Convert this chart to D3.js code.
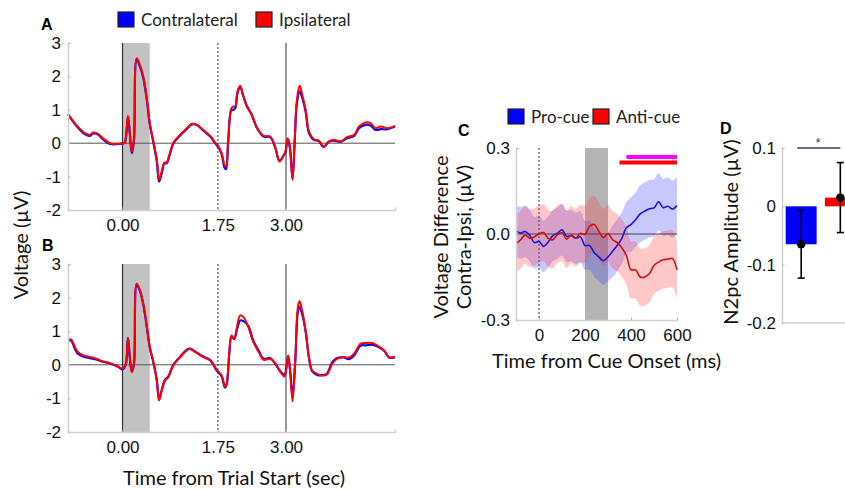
<!DOCTYPE html>
<html>
<head>
<meta charset="utf-8">
<script src="https://cdn.jsdelivr.net/npm/d3@7"></script>
<style>
body { margin: 0; background: #fff; }
</style>
</head>
<body>
<div id="chart"></div>
<script>
// ---- data ----
var timesA = [-1.0,-0.85,-0.69,-0.60,-0.54,-0.45,-0.36,-0.23,-0.11,0,0.04,0.10,0.135,0.17,0.21,0.26,0.32,0.38,0.44,0.50,0.56,0.63,0.67,0.72,0.77,0.81,0.87,0.93,1.06,1.18,1.27,1.36,1.48,1.61,1.70,1.76,1.82,1.87,1.90,1.94,2.0,2.04,2.07,2.11,2.16,2.21,2.28,2.37,2.47,2.59,2.71,2.80,2.88,2.96,2.99,3.03,3.07,3.12,3.16,3.20,3.25,3.29,3.36,3.42,3.51,3.60,3.69,3.79,3.88,4.0,4.12,4.25,4.34,4.46,4.55,4.64,4.74,4.86,5.0];
var contraA = [0.86,0.53,0.27,0.22,0.29,0.26,0.12,-0.02,-0.03,-0.01,0.01,0.78,0.27,-0.3,0.08,2.5,2.3,1.97,1.38,0.58,0.08,-0.55,-1.15,-0.9,-0.6,-0.6,-0.32,-0.02,0.24,0.43,0.56,0.55,0.38,0.2,0.0,-0.13,-0.33,-0.72,-0.78,0.05,1.0,1.0,1.05,1.5,1.68,1.45,1.12,0.86,0.45,0.2,0.18,-0.12,-0.52,-0.36,-0.28,0.12,-0.12,-1.05,0.05,1.2,1.55,1.4,0.95,0.32,0.1,0.07,-0.12,0.05,0.08,0.04,0.15,0.22,0.45,0.55,0.53,0.4,0.42,0.42,0.5];
var ipsiA = [0.87,0.55,0.30,0.25,0.32,0.28,0.15,0.0,-0.02,0.0,0.02,0.82,0.30,-0.25,0.10,2.54,2.34,2.0,1.4,0.6,0.1,-0.5,-1.1,-0.85,-0.58,-0.58,-0.3,0.0,0.25,0.45,0.58,0.55,0.4,0.22,0.02,-0.1,-0.3,-0.65,-0.7,0.1,1.05,1.1,1.1,1.55,1.72,1.45,1.1,0.85,0.45,0.22,0.2,-0.1,-0.55,-0.35,-0.25,0.15,-0.1,-1.1,0.1,1.3,1.72,1.5,1.0,0.35,0.12,0.08,-0.1,0.05,0.1,0.05,0.18,0.25,0.5,0.62,0.6,0.45,0.5,0.45,0.52];

var timesB = [-1.0,-0.94,-0.88,-0.82,-0.72,-0.60,-0.48,-0.36,-0.23,-0.08,0,0.06,0.10,0.135,0.17,0.21,0.26,0.32,0.38,0.44,0.50,0.56,0.63,0.67,0.72,0.78,0.84,0.93,1.06,1.18,1.24,1.33,1.48,1.61,1.73,1.82,1.88,1.91,1.96,2.0,2.05,2.10,2.16,2.22,2.31,2.40,2.50,2.59,2.71,2.80,2.90,2.97,3.01,3.04,3.08,3.12,3.17,3.22,3.25,3.29,3.36,3.42,3.48,3.57,3.66,3.75,3.85,3.94,4.06,4.15,4.25,4.37,4.46,4.58,4.67,4.80,4.89,5.0];
var contraB = [0.72,0.72,0.5,0.33,0.25,0.2,0.16,0.09,0.04,-0.06,-0.14,0.01,0.8,0.2,-0.2,0.02,2.38,2.2,1.8,1.2,0.52,0.12,-0.46,-1.02,-0.75,-0.45,-0.35,-0.01,0.24,0.45,0.48,0.4,0.25,0.14,-0.17,-0.35,-0.68,-0.6,0.33,0.85,0.76,1.05,1.32,1.3,1.15,0.72,0.42,0.18,0.2,0.04,-0.2,-0.3,-0.05,0.27,-0.25,-0.95,0.1,1.6,1.72,1.55,1.0,0.23,-0.19,-0.3,-0.31,-0.27,0.08,0.2,0.22,0.17,0.28,0.57,0.58,0.6,0.55,0.42,0.22,0.22];
var ipsiB = [0.75,0.75,0.55,0.38,0.28,0.23,0.18,0.1,0.05,-0.05,-0.12,0.03,0.78,0.23,-0.22,0.03,2.42,2.22,1.82,1.22,0.53,0.13,-0.47,-1.06,-0.77,-0.47,-0.37,-0.02,0.23,0.43,0.48,0.38,0.23,0.13,-0.15,-0.32,-0.65,-0.57,0.38,0.87,0.78,1.12,1.47,1.42,1.12,0.68,0.38,0.15,0.18,0.05,-0.22,-0.35,-0.07,0.28,-0.27,-1.09,0.13,1.74,1.89,1.67,1.02,0.23,-0.17,-0.27,-0.32,-0.29,0.03,0.18,0.23,0.21,0.33,0.63,0.65,0.65,0.58,0.43,0.23,0.23];

var trialTicks = [0, 1.75, 3];
var voltTicks = [-2, -1, 0, 1, 2, 3];

// panel C: contra - ipsi difference waves (ms)
var cueTimes = [-95,-80,-60,-40,-20,0,20,40,60,80,100,120,140,160,180,200,220,240,260,280,300,320,340,360,380,400,420,440,460,480,500,520,540,560,580,600];
var proMean = [0.009,0.003,0.009,-0.005,-0.03,-0.026,-0.043,-0.028,-0.006,0.003,0.015,-0.008,-0.006,-0.015,-0.01,-0.04,-0.04,-0.065,-0.08,-0.093,-0.08,-0.06,-0.04,-0.015,0.022,0.033,0.05,0.07,0.08,0.088,0.091,0.112,0.092,0.097,0.087,0.099];
var proErr = [0.09,0.09,0.09,0.09,0.09,0.09,0.09,0.09,0.09,0.09,0.09,0.09,0.09,0.09,0.09,0.085,0.085,0.085,0.085,0.085,0.085,0.09,0.09,0.09,0.09,0.095,0.095,0.1,0.1,0.1,0.1,0.1,0.1,0.1,0.1,0.1];
var antiMean = [-0.031,-0.02,-0.004,-0.015,-0.01,0.0,0.005,-0.015,-0.02,-0.002,0.005,-0.018,-0.003,-0.014,0.002,-0.002,0.027,0.033,0.01,-0.012,0.002,-0.02,-0.03,-0.048,-0.075,-0.125,-0.125,-0.15,-0.15,-0.138,-0.11,-0.098,-0.09,-0.088,-0.085,-0.125];
var antiErr = [0.1,0.1,0.1,0.1,0.1,0.1,0.1,0.1,0.1,0.1,0.1,0.1,0.1,0.1,0.1,0.1,0.1,0.1,0.1,0.1,0.1,0.1,0.1,0.1,0.1,0.1,0.1,0.1,0.1,0.1,0.1,0.1,0.1,0.1,0.1,0.1];
var cueTicks = [0, 200, 400, 600];
var diffTicks = [-0.3, 0, 0.3];
var proSig = [380, 600];
var antiSig = [350, 600];

// panel D: N2pc amplitude
var conditions = ['Pro-cue', 'Anti-cue'];
var n2pcMean = [-0.065, 0.015];
var n2pcErr = [0.058, 0.060];
var n2pcTicks = [-0.2, -0.1, 0, 0.1];

// ---- drawing ----
var width = 845, height = 490;
var blue = '#0000ff', red = '#ff0000';
var titleFont = 'Lato, "Open Sans", sans-serif';
var tickFont = '"Liberation Sans", Arial, sans-serif';

var svg = d3.select('#chart').append('svg')
    .attr('width', width)
    .attr('height', height);

function styleAxis(g) {
    g.select('.domain').attr('stroke', '#cfcfcf').attr('stroke-width', 1.5);
    g.selectAll('.tick line').attr('stroke', '#bbb');
    g.selectAll('text').attr('font-family', tickFont).attr('font-size', 17).attr('fill', '#111');
}

function legendItem(x, y, color, label) {
    svg.append('rect').attr('x', x).attr('y', y).attr('width', 16).attr('height', 15)
        .attr('fill', color).attr('stroke', '#222').attr('stroke-width', 1.2);
    svg.append('text').attr('x', x + 23).attr('y', y + 14)
        .attr('font-family', titleFont).attr('font-size', 17).attr('fill', '#222').text(label);
}

function panelLetter(x, y, t) {
    svg.append('text').attr('x', x).attr('y', y)
        .attr('font-family', tickFont).attr('font-weight', 'bold').attr('font-size', 16).text(t);
}

function axisTitle(x, y, rotate, anchor, t) {
    svg.append('text')
        .attr('transform', 'translate(' + x + ',' + y + ')' + (rotate ? ' rotate(-90)' : ''))
        .attr('text-anchor', anchor)
        .attr('font-family', titleFont).attr('font-size', 20).attr('fill', '#111')
        .text(t);
}

// trial-wide voltage panels (A and B)
var xTrial = d3.scaleLinear().domain([-1, 5]).range([68, 395]);

function trialPanel(yTop, yBottom, times, contra, ipsi) {
    var y = d3.scaleLinear().domain([-2, 3]).range([yBottom, yTop]);
    var g = svg.append('g');

    g.append('rect')
        .attr('x', xTrial(0)).attr('y', yTop)
        .attr('width', xTrial(0.5) - xTrial(0)).attr('height', yBottom - yTop)
        .attr('fill', '#c2c2c2');

    g.append('line').attr('x1', xTrial(-1)).attr('x2', xTrial(5))
        .attr('y1', y(0)).attr('y2', y(0)).attr('stroke', '#555').attr('stroke-width', 1);
    g.append('line').attr('x1', xTrial(0)).attr('x2', xTrial(0))
        .attr('y1', yTop).attr('y2', yBottom).attr('stroke', '#333').attr('stroke-width', 1.2);
    g.append('line').attr('x1', xTrial(1.75)).attr('x2', xTrial(1.75))
        .attr('y1', yTop).attr('y2', yBottom).attr('stroke', '#333').attr('stroke-width', 1)
        .attr('stroke-dasharray', '2,2');
    g.append('line').attr('x1', xTrial(3)).attr('x2', xTrial(3))
        .attr('y1', yTop).attr('y2', yBottom).attr('stroke', '#777').attr('stroke-width', 1.5);

    var line = d3.line()
        .x(function(d, i){ return xTrial(times[i]); })
        .y(function(d){ return y(d); })
        .curve(d3.curveCatmullRom.alpha(0.5));

    g.append('path').datum(contra).attr('d', line)
        .attr('fill', 'none').attr('stroke', blue).attr('stroke-width', 2.2);
    g.append('path').datum(ipsi).attr('d', line)
        .attr('fill', 'none').attr('stroke', red).attr('stroke-width', 2);

    g.append('g').attr('transform', 'translate(' + xTrial(-1) + ',0)')
        .call(d3.axisLeft(y).tickValues(voltTicks).tickSize(-2.5).tickPadding(7)
            .tickFormat(function(d){ return String(d); }))
        .call(styleAxis);

    g.append('g').attr('transform', 'translate(0,' + yBottom + ')')
        .call(d3.axisBottom(xTrial).tickValues(trialTicks).tickSize(-2.5).tickPadding(9)
            .tickFormat(function(d){ return d.toFixed(2); }))
        .call(styleAxis);
}

trialPanel(43, 210, timesA, contraA, ipsiA);
trialPanel(264, 432, timesB, contraB, ipsiB);

legendItem(118, 12, blue, 'Contralateral');
legendItem(256, 12, red, 'Ipsilateral');
panelLetter(41, 30, 'A');
panelLetter(42, 251, 'B');

axisTitle(28, 245, true, 'middle', 'Voltage (\u00b5V)');
axisTitle(234, 485, false, 'middle', 'Time from Trial Start (sec)');

// panel C
var xCue = d3.scaleLinear().domain([-100, 600]).range([516, 677]);
var yDiff = d3.scaleLinear().domain([-0.3, 0.3]).range([320, 148]);
var gC = svg.append('g');

gC.append('rect')
    .attr('x', xCue(200)).attr('y', 148)
    .attr('width', xCue(300) - xCue(200)).attr('height', 172)
    .attr('fill', '#b4b4b4');

gC.append('line').attr('x1', xCue(0)).attr('x2', xCue(0))
    .attr('y1', 148).attr('y2', 320).attr('stroke', '#333').attr('stroke-width', 1)
    .attr('stroke-dasharray', '2,2');

var band = d3.area()
    .x(function(d, i){ return xCue(cueTimes[i]); })
    .curve(d3.curveCatmullRom.alpha(0.5));

function drawBand(mean, err, color) {
    var a = band
        .y0(function(d, i){ return yDiff(mean[i] - err[i]); })
        .y1(function(d, i){ return yDiff(mean[i] + err[i]); });
    gC.append('path').datum(mean).attr('d', a)
        .attr('fill', color).attr('fill-opacity', 0.28).attr('stroke', 'none');
}
drawBand(proMean, proErr, '#3a3aff');
drawBand(antiMean, antiErr, '#ff3a3a');

gC.append('line').attr('x1', xCue(-100)).attr('x2', xCue(600))
    .attr('y1', yDiff(0)).attr('y2', yDiff(0)).attr('stroke', '#444').attr('stroke-width', 1);

var diffLine = d3.line()
    .x(function(d, i){ return xCue(cueTimes[i]); })
    .y(function(d){ return yDiff(d); })
    .curve(d3.curveCatmullRom.alpha(0.5));

gC.append('path').datum(proMean).attr('d', diffLine)
    .attr('fill', 'none').attr('stroke', '#1a1ad0').attr('stroke-width', 1.6);
gC.append('path').datum(antiMean).attr('d', diffLine)
    .attr('fill', 'none').attr('stroke', '#d01010').attr('stroke-width', 1.6);

gC.append('line').attr('x1', xCue(proSig[0])).attr('x2', xCue(proSig[1]))
    .attr('y1', 157).attr('y2', 157).attr('stroke', '#ff00ff').attr('stroke-width', 4);
gC.append('line').attr('x1', xCue(antiSig[0])).attr('x2', xCue(antiSig[1]))
    .attr('y1', 162.5).attr('y2', 162.5).attr('stroke', '#ff0000').attr('stroke-width', 4);

gC.append('g').attr('transform', 'translate(' + xCue(-100) + ',0)')
    .call(d3.axisLeft(yDiff).tickValues(diffTicks).tickSize(-2.5).tickPadding(6)
        .tickFormat(function(d){ return d.toFixed(1); }))
    .call(styleAxis);
gC.append('g').attr('transform', 'translate(0,320)')
    .call(d3.axisBottom(xCue).tickValues(cueTicks).tickSize(-2.5).tickPadding(9)
        .tickFormat(function(d){ return String(d); }))
    .call(styleAxis);

legendItem(508, 109, blue, 'Pro-cue');
legendItem(593, 109, red, 'Anti-cue');
panelLetter(458, 136, 'C');

axisTitle(448, 237, true, 'middle', 'Voltage Difference');
axisTitle(471, 237, true, 'middle', 'Contra-Ipsi, (\u00b5V)');
axisTitle(492, 368, false, 'start', 'Time from Cue Onset (ms)');

// panel D
var xCond = d3.scaleBand().domain(conditions).range([782, 859.5]).paddingInner(0.21).paddingOuter(0.095);
var yAmp = d3.scaleLinear().domain([-0.2, 0.1]).range([323, 148]);
var gD = svg.append('g');

gD.selectAll('rect.bar').data(conditions).enter().append('rect')
    .attr('class', 'bar')
    .attr('x', function(d){ return xCond(d); })
    .attr('y', function(d, i){ return yAmp(Math.max(0, n2pcMean[i])); })
    .attr('width', xCond.bandwidth())
    .attr('height', function(d, i){ return Math.abs(yAmp(n2pcMean[i]) - yAmp(0)); })
    .attr('fill', function(d, i){ return i === 0 ? blue : red; });

gD.selectAll('line.err').data(conditions).enter().append('line')
    .attr('class', 'err')
    .attr('x1', function(d){ return xCond(d) + xCond.bandwidth() / 2; })
    .attr('x2', function(d){ return xCond(d) + xCond.bandwidth() / 2; })
    .attr('y1', function(d, i){ return yAmp(n2pcMean[i] + n2pcErr[i]); })
    .attr('y2', function(d, i){ return yAmp(n2pcMean[i] - n2pcErr[i]); })
    .attr('stroke', '#000').attr('stroke-width', 1.6);

[1, -1].forEach(function(s){
    gD.selectAll(null).data(conditions).enter().append('line')
        .attr('x1', function(d){ return xCond(d) + xCond.bandwidth() / 2 - 3.5; })
        .attr('x2', function(d){ return xCond(d) + xCond.bandwidth() / 2 + 3.5; })
        .attr('y1', function(d, i){ return yAmp(n2pcMean[i] + s * n2pcErr[i]); })
        .attr('y2', function(d, i){ return yAmp(n2pcMean[i] + s * n2pcErr[i]); })
        .attr('stroke', '#000').attr('stroke-width', 1.6);
});

gD.selectAll('circle').data(conditions).enter().append('circle')
    .attr('cx', function(d){ return xCond(d) + xCond.bandwidth() / 2; })
    .attr('cy', function(d, i){ return yAmp(n2pcMean[i]); })
    .attr('r', 4.2).attr('fill', '#000');

gD.append('line')
    .attr('x1', xCond(conditions[0]) + xCond.bandwidth() / 2 - 4)
    .attr('x2', xCond(conditions[1]) + xCond.bandwidth() / 2)
    .attr('y1', yAmp(0.1)).attr('y2', yAmp(0.1))
    .attr('stroke', '#2e3a5a').attr('stroke-width', 1.5);
gD.append('text')
    .attr('x', 818).attr('y', 147)
    .attr('text-anchor', 'middle')
    .attr('font-family', tickFont).attr('font-size', 12).attr('fill', '#333')
    .text('*');

gD.append('g').attr('transform', 'translate(782,0)')
    .call(d3.axisLeft(yAmp).tickValues(n2pcTicks).tickSize(-2.5).tickPadding(6)
        .tickFormat(function(d){ return d === 0 ? '0' : d.toFixed(1); }))
    .call(styleAxis);
gD.append('line').attr('x1', 782).attr('x2', 845)
    .attr('y1', 323).attr('y2', 323).attr('stroke', '#cfcfcf').attr('stroke-width', 1.5);

panelLetter(720, 134, 'D');
axisTitle(738, 232, true, 'middle', 'N2pc Amplitude (\u00b5V)');
</script>
</body>
</html>
